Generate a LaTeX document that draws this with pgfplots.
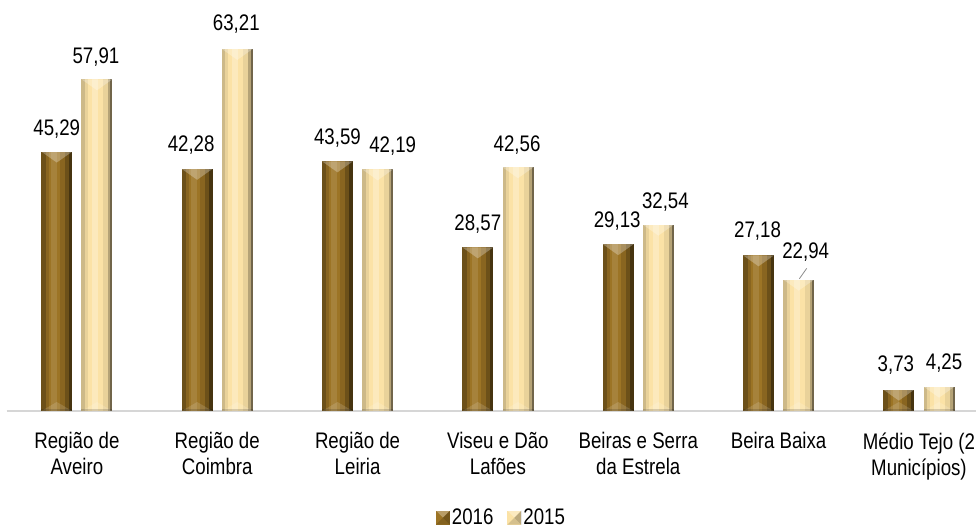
\documentclass[border=0pt]{standalone}
\usepackage{pgfplots}
\pgfplotsset{compat=1.18}
\usepackage{pgfplotstable}
\usepackage{fontspec}
\setmainfont{Liberation Sans}[FakeStretch=0.83]

\definecolor{cA}{HTML}{9C7425}
\definecolor{cB}{HTML}{FBE2A6}

% vertical strip over the bar face: x start, width, colour, opacity
\newcommand\bstrip[4]{%
  \pgfsetfillcolor{#3}\pgfsetfillopacity{#4}%
  \pgfpathrectangle{\pgfpoint{#1pt}{0pt}}{\pgfpoint{#2pt}{-\ry*5.728pt}}%
  \pgfusepath{fill}}
\newcommand\bevels{%
  \pgfsetfillcolor{white}\pgfsetfillopacity{0.28}%
  \pgfpathmoveto{\pgfpoint{-15.5pt}{0pt}}%
  \pgfpathlineto{\pgfpoint{15.5pt}{0pt}}%
  \pgfpathlineto{\pgfpoint{0pt}{-11pt}}%
  \pgfpathclose\pgfusepath{fill}%
  \pgfsetfillopacity{0.14}%
  \pgfpathmoveto{\pgfpoint{-15.5pt}{-\ry*5.728pt}}%
  \pgfpathlineto{\pgfpoint{15.5pt}{-\ry*5.728pt}}%
  \pgfpathlineto{\pgfpoint{0pt}{-\ry*5.728pt+9pt}}%
  \pgfpathclose\pgfusepath{fill}%
  \pgfsetfillcolor{black}\pgfsetfillopacity{0.15}%
  \pgfpathrectangle{\pgfpoint{-15.5pt}{-\ry*5.728pt}}{\pgfpoint{31pt}{2.5pt}}%
  \pgfusepath{fill}}
\pgfdeclareplotmark{shbarA}{%
  \begin{pgfscope}%
  \bstrip{-15.5}{4.5}{black}{0.30}%
  \bstrip{-11}{3}{black}{0.12}%
  \bstrip{-6}{6}{white}{0.10}%
  \bstrip{3}{5}{black}{0.12}%
  \bstrip{8}{4}{black}{0.30}%
  \bstrip{12}{3.5}{black}{0.55}%
  \bevels
  \end{pgfscope}}
\pgfdeclareplotmark{shbarB}{%
  \begin{pgfscope}%
  \bstrip{-15.5}{3.5}{black}{0.18}%
  \bstrip{-12}{3}{black}{0.07}%
  \bstrip{-5}{6}{white}{0.25}%
  \bstrip{6}{5}{black}{0.07}%
  \bstrip{11}{2.5}{black}{0.28}%
  \bstrip{13.5}{2}{black}{0.55}%
  \bevels
  \end{pgfscope}}

\pgfplotsset{
  barbase/.style={ybar, draw=none, point meta=explicit symbolic, nodes near coords,
    every node near coord/.append style={anchor=base, xshift=\dx pt, yshift=\dy pt,
      font=\fontsize{22.5}{26}\selectfont, text=black, inner sep=0pt}},
  bar16/.style={barbase, fill=cA, every node near coord/.append style={xshift=-20.1pt}},
  bar15/.style={barbase, fill=cB, every node near coord/.append style={xshift=20.1pt}},
}

\pgfplotstableread{
x y lbl dx dy
0 45.29 45,29 0 16.2
1 42.28 42,28 -6 17.0
2 43.59 43,59 0 16.7
3 28.57 28,57 0 16.7
4 29.13 29,13 -1 17.0
5 27.18 27,18 -1 17.6
6 3.73 3,73 -3 17.9
}\dataA

\pgfplotstableread{
x y lbl dx dy
0 57.91 57,91 -1 16.0
1 63.21 63,21 -1 18.0
2 42.19 42,19 15 16.6
3 42.56 42,56 -1 16.2
4 32.54 32,54 7 16.3
5 22.94 22,94 7 21.3
6 4.25 4,25 5 16.7
}\dataB

\begin{document}
\begin{tikzpicture}
\useasboundingbox (0,0) rectangle (976pt,528pt);
\clip (0,0) rectangle (976pt,528pt);
\begin{axis}[
  at={(6.7pt,117pt)}, anchor=south west,
  scale only axis, width=982.45pt, height=400.96pt,
  xmin=-0.5, xmax=6.5, ymin=0, ymax=70,
  bar width=31pt,
  axis y line=none,
  axis x line*=bottom,
  axis line style={-, draw=black!16, line width=1.6pt},
  xtick={0,...,6},
  xticklabels={{Região de\\Aveiro},{Região de\\Coimbra},{Região de\\Leiria},{Viseu e Dão\\Lafões},{Beiras e Serra\\da Estrela},{Beira Baixa},{Médio Tejo (2\\Municípios)}},
  major tick length=0pt,
  xticklabel style={align=center, font=\fontsize{22.5}{26}\selectfont, text=black, yshift=-18pt},
  clip=false,
  visualization depends on={\thisrow{dx} \as \dx},
  visualization depends on={\thisrow{dy} \as \dy},
  visualization depends on={\thisrow{y} \as \ry},
  legend style={draw=none, fill=none, at={(0.5036,-0.266)}, anchor=center, legend columns=2,
    font=\fontsize{22.5}{26}\selectfont,
    /tikz/every even column/.append style={column sep=12pt}},
  legend image code/.code={\path[#1] (0pt,-7pt) rectangle (14pt,7pt);
    \fill[white, opacity=0.3] (0pt,7pt) -- (14pt,7pt) -- (7pt,0pt) -- cycle;
    \fill[black, opacity=0.25] (14pt,7pt) -- (14pt,-7pt) -- (7pt,0pt) -- cycle;
    \fill[black, opacity=0.15] (0pt,-7pt) -- (14pt,-7pt) -- (7pt,0pt) -- cycle;},
]
\addlegendimage{bar16}\addlegendentry{2016}
\addlegendimage{bar15}\addlegendentry{2015}
\pgfplotsinvokeforeach{0,...,6}{
\addplot[bar16, bar shift=-20.1pt, forget plot, x filter/.expression={abs(x-#1)<0.1 ? x : nan}]
  table[x=x, y=y, meta=lbl] {\dataA};
\addplot[bar15, bar shift=20.1pt, forget plot, x filter/.expression={abs(x-#1)<0.1 ? x : nan}]
  table[x=x, y=y, meta=lbl] {\dataB};
}
\addplot[only marks, mark=shbarA, forget plot, mark options={xshift=-20.1pt}]
  table[x=x, y=y] {\dataA};
\addplot[only marks, mark=shbarB, forget plot, mark options={xshift=20.1pt}]
  table[x=x, y=y] {\dataB};
\draw[black!45, line width=0.8pt] (axis cs:5.148,23.1) -- (axis cs:5.2,24.9);
\end{axis}
\end{tikzpicture}
\end{document}
